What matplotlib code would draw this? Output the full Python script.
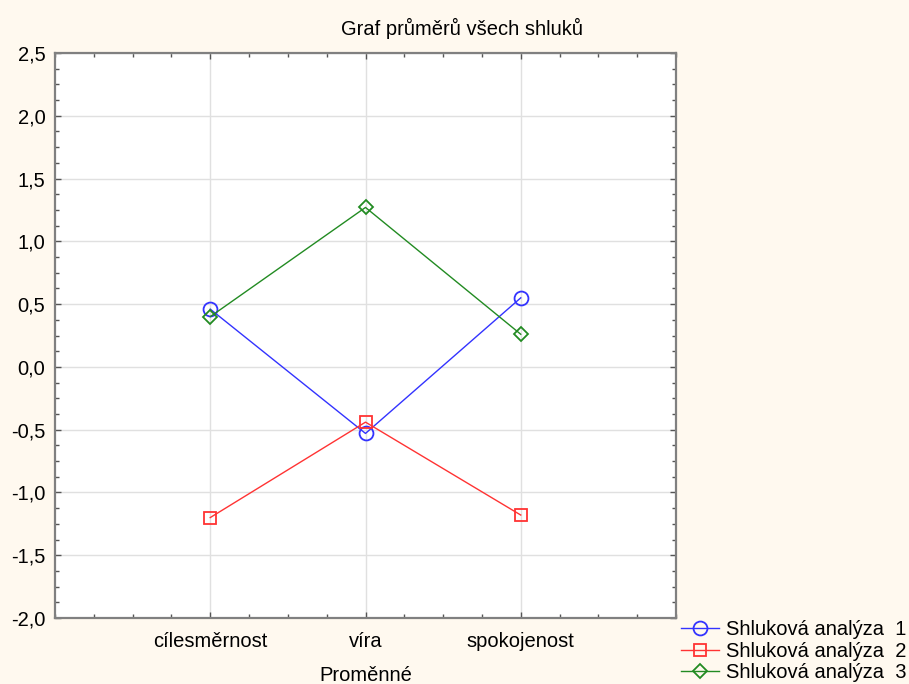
import matplotlib
matplotlib.use("Agg")
import matplotlib.pyplot as plt
import numpy as np
from matplotlib.ticker import MultipleLocator, FuncFormatter

plt.rcParams['font.family'] = ['Liberation Sans', 'DejaVu Sans']

categories = ["cílesměrnost", "víra", "spokojenost"]
series_names = ["Shluková analýza  1", "Shluková analýza  2", "Shluková analýza  3"]
s1 = [0.46, -0.53, 0.55]
s2 = [-1.20, -0.44, -1.18]
s3 = [0.40, 1.27, 0.26]
yticks = [-2.0, -1.5, -1.0, -0.5, 0.0, 0.5, 1.0, 1.5, 2.0, 2.5]

bg = "#FFF9EF"
fs = 14.5
fig = plt.figure(figsize=(9.09, 6.84), dpi=100, facecolor=bg)
ax = fig.add_axes([55/909, 1-618/684, (676-55)/909, (618-53)/684])
ax.set_facecolor("white")

x = np.arange(1, len(categories)+1)
ax.plot(x, s1, color="#3333FF", lw=1.0, marker="o", ms=10, mfc="none", mec="#3333FF", mew=1.3, label=series_names[0], zorder=3)
ax.plot(x, s2, color="#FF3333", lw=1.0, marker="s", ms=9, mfc="none", mec="#FF3333", mew=1.3, label=series_names[1], zorder=3)
ax.plot(x, s3, color="#228B22", lw=1.0, marker="D", ms=7, mfc="none", mec="#228B22", mew=1.3, label=series_names[2], zorder=3)

ax.set_xlim(0, len(categories)+1)
ax.set_ylim(-2.0, 2.5)
ax.set_xticks(x)
ax.set_xticklabels(categories)
ax.xaxis.set_minor_locator(MultipleLocator(0.25))
ax.set_yticks(yticks)
ax.yaxis.set_minor_locator(MultipleLocator(0.125))
ax.yaxis.set_major_formatter(FuncFormatter(lambda v, p: f"{v:.1f}".replace(".", ",")))
ax.grid(True, which="major", color="#E0E0E0", lw=1.0)
ax.set_axisbelow(True)
ax.tick_params(which="both", direction="in", top=True, right=True, color="#555555", labelsize=fs)
ax.tick_params(which="major", length=4, width=1, pad=7)
ax.tick_params(which="minor", length=3, width=1)
ax.tick_params(axis="x", which="major", pad=10)
for sp in ax.spines.values():
    sp.set_color("#808080")
    sp.set_linewidth(1.6)
ax.set_xlabel("Proměnné", fontsize=fs, labelpad=11)

fig.text(462/909, 1-28/684, "Graf průměrů všech shluků", ha="center", va="center", fontsize=fs)

leg = fig.legend(loc="lower right", bbox_to_anchor=(1.0, 0.0), frameon=False, fontsize=fs,
                 handlelength=1.9, handletextpad=0.35, labelspacing=0.12, borderaxespad=0.0, borderpad=0.1)

fig.savefig("out.png", dpi=100, facecolor=bg)
